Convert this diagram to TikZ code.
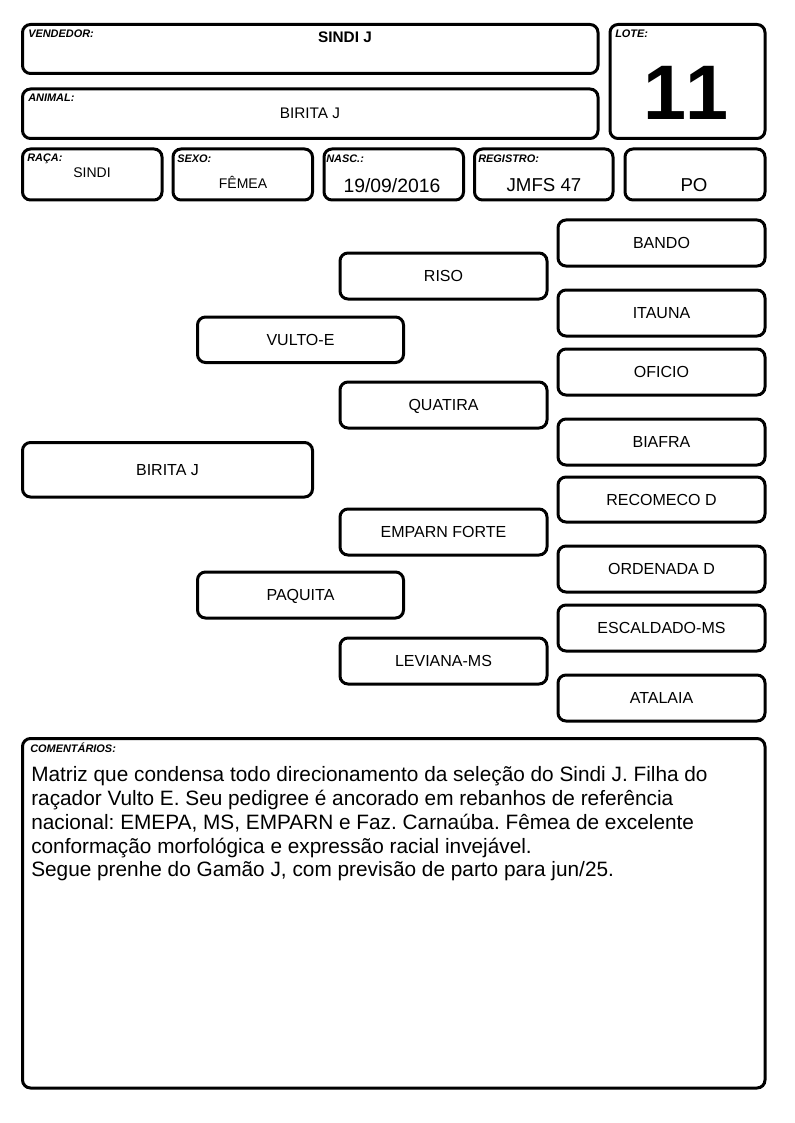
\documentclass[tikz,border=0pt]{standalone}
\usepackage{fontspec}
\setmainfont{Liberation Sans}
\frenchspacing
\begin{document}
\begin{tikzpicture}[x=0.75pt,y=-0.75pt,
  box/.style={draw=black, line width=2.25pt, rounded corners=6pt, inner sep=0pt, fill=white,
    font=\fontsize{12}{14}\selectfont, text height=8.6pt, text depth=0pt, align=center},
  lab/.style={anchor=north west, inner sep=0pt, font=\fontsize{8.2}{9}\selectfont\bfseries\itshape},
  val/.style={anchor=base, inner sep=0pt}]
\useasboundingbox[fill=white] (0,0) rectangle (794,1123);
\newcommand\bx[6]{\node[box, minimum width={(#4-#2)*0.75pt}, minimum height={(#5-#3)*0.75pt}] (#1) at ({(#2+#4)/2},{(#3+#5)/2}) {#6};}
% header boxes
\bx{vend}{22.5}{24.5}{598}{73.5}{}
\bx{animal}{22.5}{89}{598}{138.5}{}
\bx{lote}{610}{24.5}{765}{138.5}{}
\bx{raca}{22.5}{149}{162}{200}{}
\bx{sexo}{173}{149}{312.5}{200}{}
\bx{nasc}{324}{149}{463.5}{200}{}
\bx{reg}{474.5}{149}{613}{200}{}
\bx{po}{625}{149}{765}{200}{}
% header labels
\node[lab] (lvend) at (28,30) {VENDEDOR:};
\node[lab] (lanimal) at (28,94) {ANIMAL:};
\node[lab] (llote) at (615,30) {LOTE:};
\node[lab] (lraca) at (27,154) {RAÇA:};
\node[lab] (lsexo) at (177,155) {SEXO:};
\node[lab] (lnasc) at (326,155) {NASC.:};
\node[lab] (lreg) at (478,155) {REGISTRO:};
% header values
\node[val, font=\fontsize{11.5}{13}\selectfont\bfseries] (vvend) at (345,42.5) {SINDI J};
\node[val, font=\fontsize{11.5}{13}\selectfont] (vanimal) at (310,119) {BIRITA J};
\node[val, font=\fontsize{58}{60}\selectfont\bfseries] (vlote) at (686,120) {1\kern0pt1};
\node[val, font=\fontsize{10.5}{12}\selectfont] (vraca) at (92,178) {SINDI};
\node[val, font=\fontsize{10.5}{12}\selectfont] (vsexo) at (243,189) {FÊMEA};
\node[val, font=\fontsize{14.5}{16}\selectfont] (vnasc) at (392,193) {19/09/2016};
\node[val, font=\fontsize{14}{16}\selectfont] (vreg) at (544,192) {JMFS 47};
\node[val, font=\fontsize{14}{16}\selectfont] (vpo) at (694,192) {PO};
% pedigree
\bx{animalp}{22.5}{442.5}{312.5}{497}{BIRITA J}
\bx{pai}{197.5}{317}{403.5}{362.5}{VULTO-E}
\bx{mae}{197.5}{572}{403.5}{618}{PAQUITA}
\bx{avp}{340}{253}{547}{299}{RISO}
\bx{avop}{340}{382}{547}{428}{QUATIRA}
\bx{avm}{340}{509}{547}{555}{EMPARN FORTE}
\bx{avom}{340}{638}{547}{684}{LEVIANA-MS}
\bx{b1}{558}{220}{765}{266}{BANDO}
\bx{b2}{558}{290}{765}{336}{ITAUNA}
\bx{b3}{558}{349}{765}{395}{OFICIO}
\bx{b4}{558}{419}{765}{465}{BIAFRA}
\bx{b5}{558}{477}{765}{522}{RECOMECO D}
\bx{b6}{558}{546}{765}{592}{ORDENADA D}
\bx{b7}{558}{605}{765}{651}{ESCALDADO-MS}
\bx{b8}{558}{675}{765}{721}{ATALAIA}
% comments
\bx{com}{22.5}{738.5}{765}{1088}{}
\node[lab] (lcom) at (30,743) {COMENTÁRIOS:};
\node[anchor=north west, inner sep=0pt, align=left, font=\fontsize{15.6}{17.8}\selectfont] (tcom) at (31,766.5)
{Matriz que condensa todo direcionamento da seleção do Sindi J. Filha do\\
raçador Vulto E. Seu pedigree é ancorado em rebanhos de referência\\
nacional: EMEPA, MS, EMPARN e Faz. Carnaúba. Fêmea de excelente\\
conformação morfológica e expressão racial invejável.\\
Segue prenhe do Gamão J, com previsão de parto para jun/25.};
\end{tikzpicture}
\end{document}
